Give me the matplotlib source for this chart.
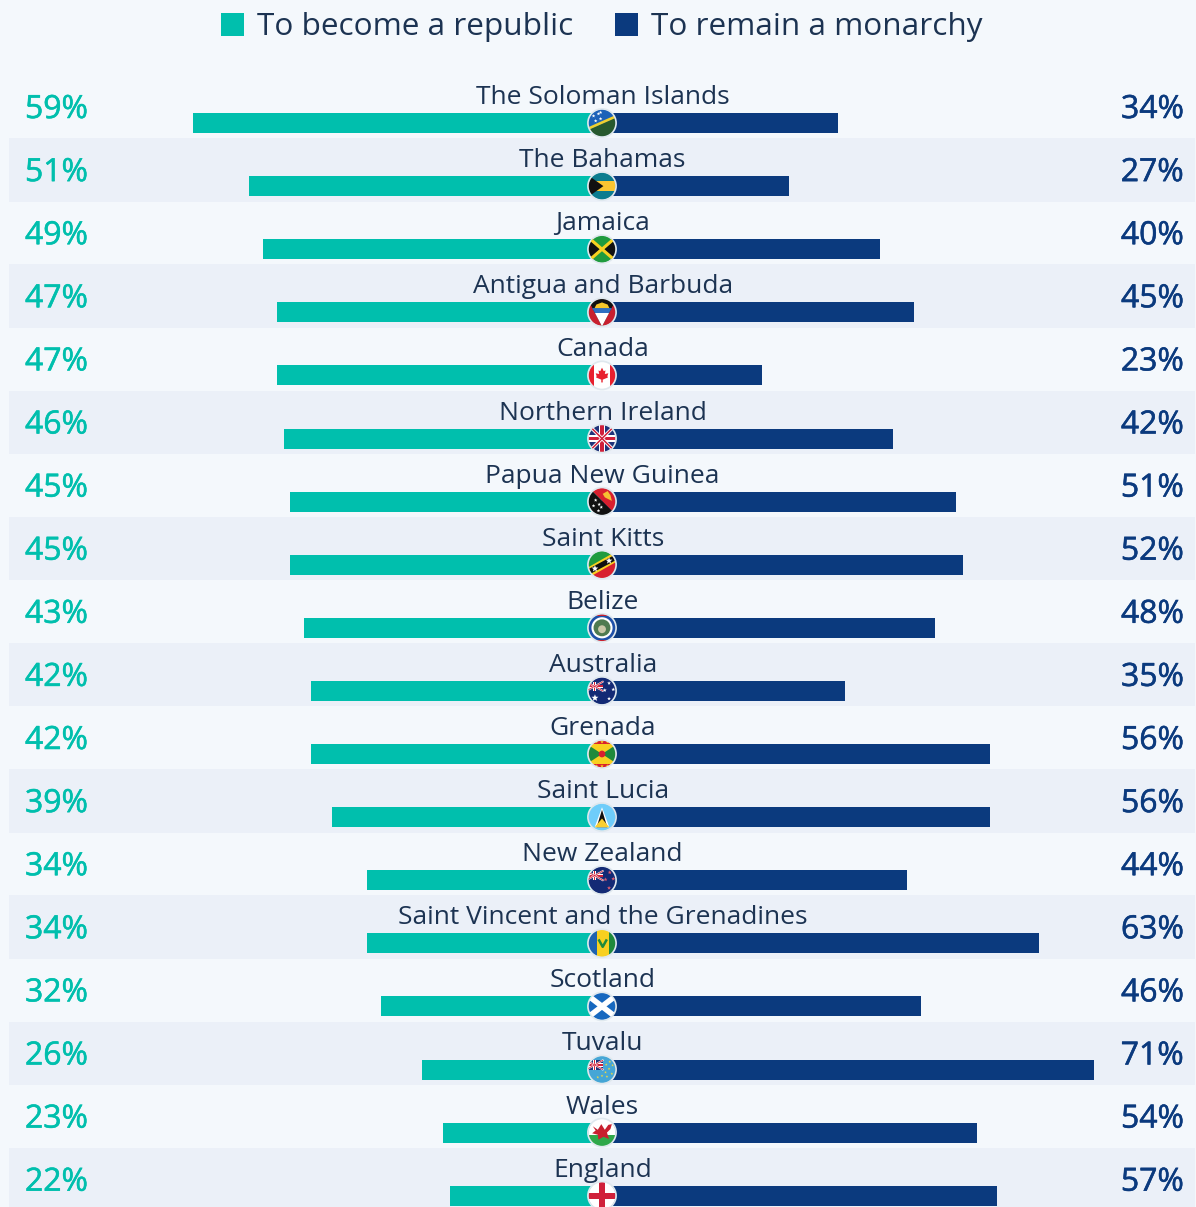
import numpy as np
import matplotlib
matplotlib.use('Agg')
import matplotlib.pyplot as plt
import matplotlib.patheffects as pe
from matplotlib.patches import Circle, Polygon, Rectangle

plt.rcParams['font.family'] = ['Open Sans', 'DejaVu Sans']

countries = ['The Soloman Islands', 'The Bahamas', 'Jamaica', 'Antigua and Barbuda', 'Canada',
             'Northern Ireland', 'Papua New Guinea', 'Saint Kitts', 'Belize', 'Australia',
             'Grenada', 'Saint Lucia', 'New Zealand', 'Saint Vincent and the Grenadines',
             'Scotland', 'Tuvalu', 'Wales', 'England']
republic = [59, 51, 49, 47, 47, 46, 45, 45, 43, 42, 42, 39, 34, 34, 32, 26, 23, 22]
monarchy = [34, 27, 40, 45, 23, 42, 51, 52, 48, 35, 56, 56, 44, 63, 46, 71, 54, 57]
legend_labels = ['To become a republic', 'To remain a monarchy']

TEAL = '#00bfad'
NAVY = '#0b3a7e'
TEXT = '#1c3352'
BG = '#f4f8fc'
STRIPE = '#ebf0f8'

W, H = 1196, 1207
X0, PX_PER_PCT = 602.3, 6.93
Y0, ROW = 123, 63.1


def star(a, x, y, r, color):
    pts = []
    for k in range(10):
        rr = r if k % 2 == 0 else r * 0.42
        t = np.pi / 2 + k * np.pi / 5
        pts.append((x + rr * np.cos(t), y + rr * np.sin(t)))
    a.add_patch(Polygon(pts, color=color, lw=0))


def poly(a, pts, color):
    a.add_patch(Polygon(pts, color=color, lw=0))


def rect(a, x, y, w, h, color):
    a.add_patch(Rectangle((x, y), w, h, color=color, lw=0))


def union_jack(a, x0=-1.1, x1=1.1, y0=-1.1, y1=1.1):
    rect(a, x0, y0, x1 - x0, y1 - y0, '#20337a')
    a.plot([x0, x1], [y0, y1], color='white', lw=(x1 - x0) * 1.1)
    a.plot([x0, x1], [y1, y0], color='white', lw=(x1 - x0) * 1.1)
    a.plot([x0, x1], [y0, y1], color='#d0203a', lw=(x1 - x0) * 0.5)
    a.plot([x0, x1], [y1, y0], color='#d0203a', lw=(x1 - x0) * 0.5)
    cx, cy = (x0 + x1) / 2, (y0 + y1) / 2
    w = (x1 - x0) * 0.1
    rect(a, x0, cy - w, x1 - x0, 2 * w, 'white')
    rect(a, cx - w, y0, 2 * w, y1 - y0, 'white')
    w = (x1 - x0) * 0.055
    rect(a, x0, cy - w, x1 - x0, 2 * w, '#d0203a')
    rect(a, cx - w, y0, 2 * w, y1 - y0, '#d0203a')


def solomon(a):
    rect(a, -1.1, -1.1, 2.2, 2.2, '#1c62b8')
    poly(a, [(-1.1, -0.55), (1.1, 0.45), (1.1, -1.1), (-1.1, -1.1)], '#27592f')
    poly(a, [(-1.1, -0.55), (1.1, 0.42), (1.1, 0.62), (-1.1, -0.35)], '#f0d030')
    for x, y in [(-0.45, 0.15), (-0.1, 0.3), (-0.6, 0.5), (-0.25, 0.65), (-0.1, 0.75)]:
        star(a, x, y, 0.13, 'white')


def bahamas(a):
    rect(a, -1.1, -1.1, 2.2, 2.2, '#0b7c8f')
    rect(a, -1.1, -0.38, 2.2, 0.76, '#fbc531')
    poly(a, [(-1.1, -0.85), (-1.1, 0.85), (0.1, 0)], '#111111')


def jamaica(a):
    rect(a, -1.1, -1.1, 2.2, 2.2, '#1f9b3e')
    poly(a, [(-1.1, -0.85), (-1.1, 0.85), (-0.15, 0)], '#111111')
    poly(a, [(1.1, -0.85), (1.1, 0.85), (0.15, 0)], '#111111')
    a.plot([-1.1, 1.1], [-0.95, 0.95], color='#f8d020', lw=2.2)
    a.plot([-1.1, 1.1], [0.95, -0.95], color='#f8d020', lw=2.2)


def antigua(a):
    rect(a, -1.1, -1.1, 2.2, 2.2, '#c8202f')
    poly(a, [(-1.1, 1.1), (1.1, 1.1), (0, -1.0)], '#111111')
    poly(a, [(-0.55, 0.25), (0.55, 0.25), (0.4, 0.55), (0, 0.7), (-0.4, 0.55)], '#f6c62a')
    poly(a, [(-0.7, 0.3), (0.7, 0.3), (0.5, -0.05), (-0.5, -0.05)], '#2f6fc2')
    poly(a, [(-0.5, -0.05), (0.5, -0.05), (0, -1.0)], 'white')


def canada(a):
    rect(a, -1.1, -1.1, 2.2, 2.2, 'white')
    rect(a, -1.1, -1.1, 0.55, 2.2, '#e8202e')
    rect(a, 0.55, -1.1, 0.55, 2.2, '#e8202e')
    poly(a, [(0, 0.55), (0.12, 0.3), (0.25, 0.35), (0.2, 0.1), (0.45, 0.15), (0.38, -0.05),
             (0.42, -0.15), (0.05, -0.3), (0.05, -0.5), (-0.05, -0.5), (-0.05, -0.3), (-0.42, -0.15),
             (-0.38, -0.05), (-0.45, 0.15), (-0.2, 0.1), (-0.25, 0.35), (-0.12, 0.3)], '#e8202e')


def png(a):
    poly(a, [(-1.1, 1.1), (1.1, 1.1), (1.1, -1.1)], '#d8202f')
    poly(a, [(-1.1, 1.1), (-1.1, -1.1), (1.1, -1.1)], '#111111')
    poly(a, [(0.05, 0.55), (0.4, 0.75), (0.6, 0.45), (0.7, 0.05), (0.4, 0.2), (0.2, 0.3)], '#f6c032')
    for x, y in [(-0.45, 0.1), (-0.2, -0.2), (-0.6, -0.3), (-0.25, -0.65), (-0.05, -0.4)]:
        star(a, x, y, 0.13, 'white')


def kitts(a):
    poly(a, [(-1.1, -0.9), (-1.1, 1.1), (1.1, 1.1)], '#1f9b3e')
    poly(a, [(-1.1, -1.1), (1.1, -1.1), (1.1, 0.9)], '#d8202f')
    poly(a, [(-1.1, -1.0), (-1.1, -0.25), (1.1, 1.0), (1.1, 0.25)], '#f8d020')
    poly(a, [(-1.1, -0.8), (-1.1, -0.38), (1.1, 0.8), (1.1, 0.38)], '#111111')
    star(a, -0.5, -0.28, 0.25, 'white')
    star(a, 0.5, 0.28, 0.25, 'white')


def belize(a):
    rect(a, -1.1, -1.1, 2.2, 2.2, '#1f50a8')
    rect(a, -1.1, 0.85, 2.2, 0.25, '#c8202f')
    rect(a, -1.1, -1.1, 2.2, 0.25, '#c8202f')
    a.add_patch(Circle((0, 0), 0.75, color='white', lw=0))
    a.add_patch(Circle((0, 0), 0.6, color='#4f7a50', lw=0))
    a.add_patch(Circle((0, -0.1), 0.28, color='#c9c6a8', lw=0))


def australia(a):
    rect(a, -1.1, -1.1, 2.2, 2.2, '#132a75')
    union_jack(a, -1.1, 0.05, 0.0, 0.65)
    star(a, -0.5, -0.5, 0.26, 'white')
    for x, y in [(0.5, 0.55), (0.5, -0.55), (0.2, 0.05), (0.8, 0.1)]:
        star(a, x, y, 0.14, 'white')


def grenada(a):
    rect(a, -1.1, -1.1, 2.2, 2.2, '#d8202f')
    rect(a, -1.1, -0.72, 2.2, 1.44, '#f8d020')
    poly(a, [(-1.1, 0.72), (-1.1, -0.72), (0, 0)], '#1f8a3c')
    poly(a, [(1.1, 0.72), (1.1, -0.72), (0, 0)], '#1f8a3c')
    a.add_patch(Circle((0, 0), 0.24, color='#d8202f', lw=0))
    for x in (-0.4, 0, 0.4):
        star(a, x, 0.86, 0.13, '#f8d020')
        star(a, x, -0.86, 0.13, '#f8d020')


def saint_lucia(a):
    rect(a, -1.1, -1.1, 2.2, 2.2, '#6fcdfa')
    poly(a, [(0, 0.7), (-0.52, -0.72), (0.52, -0.72)], 'white')
    poly(a, [(0, 0.52), (-0.38, -0.72), (0.38, -0.72)], '#111111')
    poly(a, [(0, -0.1), (-0.52, -0.72), (0.52, -0.72)], '#f8cf30')


def new_zealand(a):
    rect(a, -1.1, -1.1, 2.2, 2.2, '#132a75')
    union_jack(a, -1.1, 0.05, 0.0, 0.65)
    for x, y in [(0.55, 0.55), (0.5, -0.55), (0.25, 0.05), (0.8, 0.1)]:
        star(a, x, y, 0.15, '#d85a70')


def saint_vincent(a):
    rect(a, -1.1, -1.1, 0.75, 2.2, '#1f62b0')
    rect(a, -0.35, -1.1, 0.85, 2.2, '#f8d020')
    rect(a, 0.5, -1.1, 0.6, 2.2, '#1f8a3c')
    a.plot([-0.2, 0.05, 0.3], [0.2, -0.25, 0.2], color='#1f8a3c', lw=1.8)


def scotland(a):
    rect(a, -1.1, -1.1, 2.2, 2.2, '#1768bf')
    a.plot([-1.1, 1.1], [-0.85, 0.85], color='white', lw=4)
    a.plot([-1.1, 1.1], [0.85, -0.85], color='white', lw=4)


def tuvalu(a):
    rect(a, -1.1, -1.1, 2.2, 2.2, '#45a6d6')
    union_jack(a, -1.1, 0.05, 0.0, 0.65)
    for x, y in [(0.3, 0.35), (0.55, 0.55), (0.75, 0.3), (0.5, 0.05), (0.25, -0.2), (0.0, -0.45),
                 (-0.3, -0.55), (0.35, -0.5), (0.7, -0.3)]:
        star(a, x, y, 0.1, '#f0d840')


def wales(a):
    rect(a, -1.1, -0.15, 2.2, 1.25, 'white')
    rect(a, -1.1, -1.1, 2.2, 0.95, '#2fa84a')
    poly(a, [(-0.65, 0.45), (-0.3, 0.2), (-0.05, 0.6), (0.2, 0.2), (0.45, 0.55), (0.7, 0.6),
             (0.6, 0.25), (0.35, 0.0), (0.5, -0.45), (0.1, -0.3), (-0.25, -0.5), (-0.3, -0.15),
             (-0.7, -0.05), (-0.45, 0.15)], '#c8202f')


def england(a):
    rect(a, -1.1, -1.1, 2.2, 2.2, 'white')
    rect(a, -1.1, -0.22, 2.2, 0.44, '#d0203a')
    rect(a, -0.22, -1.1, 0.44, 2.2, '#d0203a')


flags = [solomon, bahamas, jamaica, antigua, canada, union_jack, png, kitts, belize, australia,
         grenada, saint_lucia, new_zealand, saint_vincent, scotland, tuvalu, wales, england]

fig = plt.figure(figsize=(W / 100, H / 100), dpi=100, facecolor=BG)
ax = fig.add_axes([0, 0, 1, 1], facecolor=BG)
ax.set_xlim(-X0 / PX_PER_PCT, (W - X0) / PX_PER_PCT)
ax.set_ylim((H - Y0) / ROW, -Y0 / ROW)
ax.axis('off')

y = np.arange(len(countries))
for i in y[1::2]:
    ax.axhspan(i - 48 / ROW, i + 15.5 / ROW, xmin=9 / W, xmax=1195 / W, color=STRIPE, lw=0, zorder=0)

ax.barh(y, [-v for v in republic], height=20 / ROW, color=TEAL, zorder=2)
ax.barh(y, monarchy, height=20 / ROW, color=NAVY, zorder=2)

left_x = (25 - X0) / PX_PER_PCT
right_x = (1184 - X0) / PX_PER_PCT
for i, name in enumerate(countries):
    ax.text(0.05, i - 25.5 / ROW, name, ha='center', va='center', fontsize=19, color=TEXT, zorder=3)
    # no medium weight installed, thicken the percent labels with a thin stroke
    t1 = ax.text(left_x, i - 13.5 / ROW, f'{republic[i]}%', ha='left', va='center', fontsize=23,
                 color=TEAL, zorder=3)
    t2 = ax.text(right_x, i - 13.5 / ROW, f'{monarchy[i]}%', ha='right', va='center', fontsize=23,
                 color=NAVY, zorder=3)
    t1.set_path_effects([pe.withStroke(linewidth=0.4, foreground=TEAL)])
    t2.set_path_effects([pe.withStroke(linewidth=0.4, foreground=NAVY)])

    # flag in its own little axes, clipped to a circle
    r = 15.5
    cx, cy = 602, Y0 + ROW * i
    fa = fig.add_axes([(cx - r) / W, 1 - (cy + r) / H, 2 * r / W, 2 * r / H])
    fa.set_xlim(-1.1, 1.1)
    fa.set_ylim(-1.1, 1.1)
    fa.axis('off')
    flags[i](fa)
    clip = Circle((0, 0), 0.97, transform=fa.transData)
    for art in fa.patches + fa.lines:
        art.set_clip_path(clip)
    fa.add_patch(Circle((0, 0), 1.0, fill=False, ec='#dfe8ee', lw=1.2))

# legend
fig.add_artist(Rectangle((221 / W, 1 - 36 / H), 23 / W, 23 / H, color=TEAL, lw=0, transform=fig.transFigure))
fig.add_artist(Rectangle((615 / W, 1 - 36 / H), 23 / W, 23 / H, color=NAVY, lw=0, transform=fig.transFigure))
fig.text(257 / W, 1 - 27 / H, legend_labels[0], ha='left', va='center', fontsize=22.65, color=TEXT)
fig.text(651 / W, 1 - 27 / H, legend_labels[1], ha='left', va='center', fontsize=22.65, color=TEXT)

fig.savefig('out.png', dpi=100, facecolor=BG)
